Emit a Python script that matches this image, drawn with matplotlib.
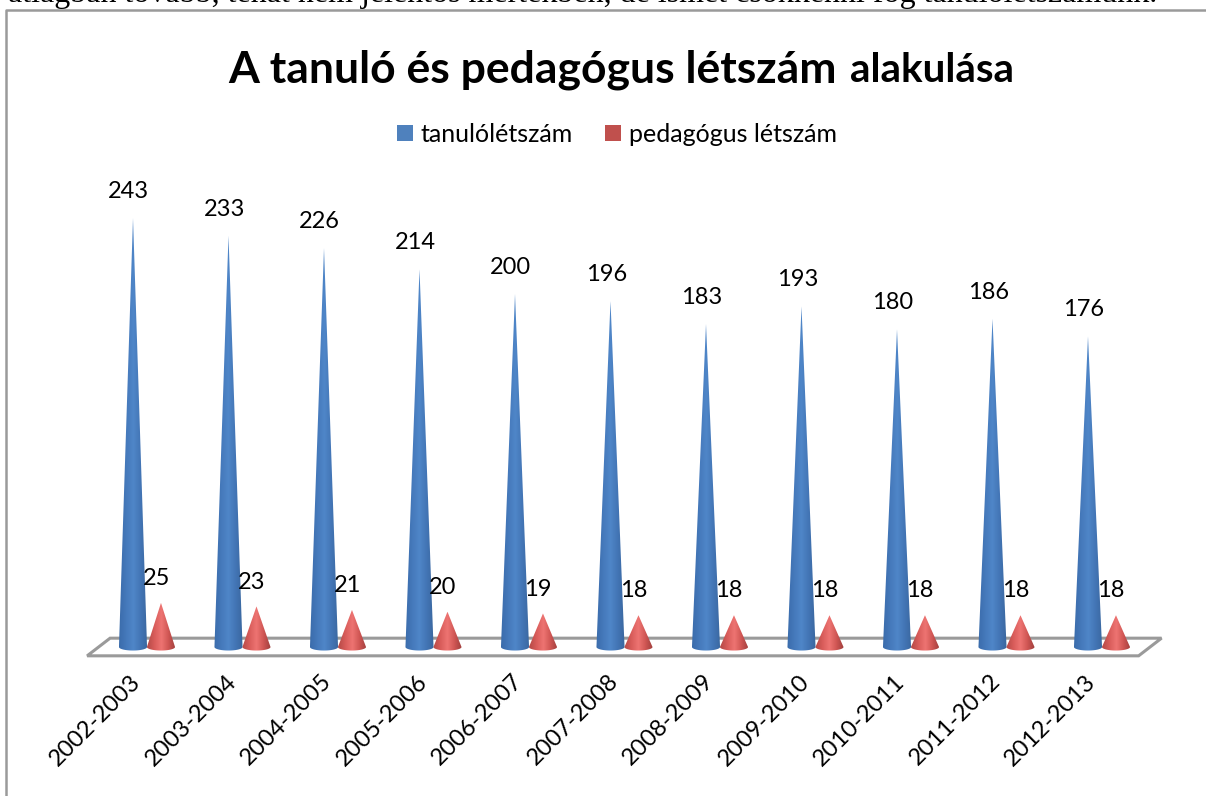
#!/usr/bin/env python3
"""
A tanuló és pedagógus létszám alakulása - cone chart scanned from a document page.
"""
import numpy as np
import matplotlib as mpl
import matplotlib.pyplot as plt
from matplotlib.colors import LinearSegmentedColormap
from matplotlib.lines import Line2D
from matplotlib.patches import Patch, Polygon

mpl.rcParams.update({
    "font.family": ["Lato", "DejaVu Sans"],
    "axes.spines.right": False,
    "axes.spines.top": False,
    "axes.spines.left": False,
    "axes.spines.bottom": False,
})

years = ["2002-2003", "2003-2004", "2004-2005", "2005-2006", "2006-2007", "2007-2008",
         "2008-2009", "2009-2010", "2010-2011", "2011-2012", "2012-2013"]
tanulo = [243, 233, 226, 214, 200, 196, 183, 193, 180, 186, 176]
pedagogus = [25, 23, 21, 20, 19, 18, 18, 18, 18, 18, 18]

C_BLUE = "#4F81BD"
C_RED = "#C0504D"
C_GRID = "#9A9A9A"
W, H = 1206, 796

CMAP_BLUE = LinearSegmentedColormap.from_list("b", ["#3B6CAB", "#4579BB", "#4F86C8", "#4375B5", "#3A679F"])
CMAP_RED = LinearSegmentedColormap.from_list("r", ["#B54A47", "#D85C5A", "#EE7472", "#CF5653", "#A03F3D"])
GRAD = np.linspace(0, 1, 64).reshape(1, -1)


def cone(ax, xc, value, half_w, ell, cmap):
    # side walls up to the tip, then the front half of the base ellipse
    t = np.linspace(np.pi, 2 * np.pi, 30)
    xs = np.r_[xc, xc + half_w * np.cos(t)]
    ys = np.r_[value, ell * np.sin(t)]
    im = ax.imshow(GRAD, extent=(xc - half_w, xc + half_w, -ell, value), cmap=cmap,
                   aspect="auto", interpolation="bilinear", zorder=3)
    patch = Polygon(np.c_[xs, ys], closed=True, transform=ax.transData)
    im.set_clip_path(patch)
    im.set_clip_box(fig.bbox)  # base ellipse hangs below the axes


fig = plt.figure(figsize=(W / 100, H / 100), dpi=100)
ax = fig.add_axes([85.25 / W, (H - 647) / H, 1050.5 / W, 529.5 / H])
x = np.arange(len(years))
RED_SHIFT = 0.293
HALF_W = 0.147
ELL = 2.0

# floor of the 3D plot
floor = Polygon([(-0.48, -5), (10.53, -5), (10.77, 5), (-0.24, 5)], closed=True,
                facecolor="white", edgecolor=C_GRID, linewidth=2.2, clip_on=False, zorder=1)
ax.add_patch(floor)

for xi, t_val, p_val in zip(x, tanulo, pedagogus):
    cone(ax, xi, t_val, HALF_W, ELL, CMAP_BLUE)
    cone(ax, xi + RED_SHIFT, p_val, HALF_W, ELL, CMAP_RED)
    ax.annotate(str(t_val), (xi, t_val), xytext=(-3, 11.5), textcoords="offset points",
                ha="center", va="bottom", fontsize=17, color="black", zorder=5)
    ax.annotate(str(p_val), (xi + RED_SHIFT, p_val), xytext=(-3.5, 10), textcoords="offset points",
                ha="center", va="bottom", fontsize=17, color="black", zorder=5)

ax.set_xlim(-0.5, 10.5)
ax.set_ylim(0, 300)
ax.set_yticks([])
ax.set_xticks(x - 0.03, years, rotation=45, ha="right", va="top", rotation_mode="anchor", fontsize=17)
ax.tick_params(axis="x", length=0, pad=17)

# title is two runs with different size
fig.text(228 / W, 1 - 82 / H, "A tanuló és pedagógus létszám", fontsize=32, fontweight="bold", ha="left", va="baseline")
fig.text(850 / W, 1 - 82 / H, "alakulása", fontsize=29, fontweight="bold", ha="left", va="baseline")

handles = [Patch(facecolor=C_BLUE, label="tanulólétszám"), Patch(facecolor=C_RED, label="pedagógus létszám")]
fig.legend(handles=handles, loc="center", bbox_to_anchor=(617 / W, 1 - 134 / H), ncol=2, frameon=False,
           fontsize=18, handlelength=0.62, handleheight=0.62, handletextpad=0.32, columnspacing=1.3)

# frame of the embedded chart and the cut off line of text above it
fig.add_artist(Line2D([6 / W, 6 / W, 1], [0, 1 - 10 / H, 1 - 10 / H], color=C_GRID, linewidth=1.8))
fig.text(8 / W, 1 - 2 / H, "átlagban tovább, tehát nem jelentős mértékben, de ismét csökkenni fog tanulólétszámunk.",
         family="Liberation Serif", fontsize=23, ha="left", va="baseline", color="black")

fig.savefig("out.png", dpi=100)
